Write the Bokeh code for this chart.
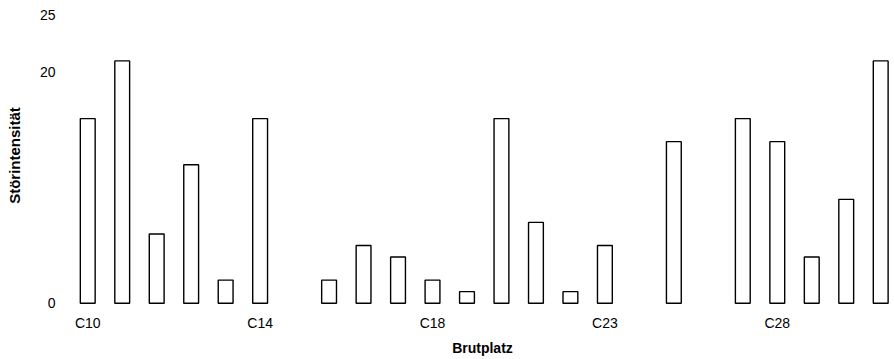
from bokeh.plotting import figure
from bokeh.models import FixedTicker, Range1d
from bokeh.embed import file_html
from bokeh.resources import INLINE

categories = ["C10", "C11", "C12", "C12b", "C13", "C14", "C15", "C15b",
              "C16", "C17", "C18", "C19", "C20", "C21", "C22", "C23",
              "C24", "C25", "C26", "C27", "C28", "C29", "C30", "C31"]
values = [16, 21, 6, 12, 2, 16, 0, 2, 5, 4, 2, 1, 16, 7, 1, 5,
          0, 14, 0, 16, 14, 4, 9, 21]
tick_labels = ["C10", "C14", "C18", "C23", "C28"]
y_ticks = [0, 20, 25]

xs = [i for i, v in enumerate(values) if v > 0]
tops = [v for v in values if v > 0]

FONT = "Liberation Sans"

p = figure(frame_width=824, frame_height=300, output_backend="svg",
           toolbar_location=None,
           x_range=Range1d(-0.5, 23.4), y_range=Range1d(-0.2, 25.8),
           min_border_left=70, min_border_right=0, min_border_top=5,
           min_border_bottom=54)
p.vbar(x=xs, top=tops, bottom=0, width=0.43, fill_color="white",
       line_color="black", line_width=1.4)

p.outline_line_color = None
p.xgrid.grid_line_color = None
p.ygrid.grid_line_color = None

tick_pos = [categories.index(t) for t in tick_labels]
p.xaxis.ticker = FixedTicker(ticks=tick_pos)
p.xaxis.major_label_overrides = {i: t for i, t in zip(tick_pos, tick_labels)}
p.yaxis.ticker = FixedTicker(ticks=y_ticks)

for ax in (p.xaxis[0], p.yaxis[0]):
    ax.axis_line_color = None
    ax.major_tick_line_color = None
    ax.minor_tick_line_color = None
    ax.major_tick_out = 0
    ax.major_tick_in = 0
    ax.minor_tick_out = 0
    ax.minor_tick_in = 0
    ax.major_label_text_font = FONT
    ax.major_label_text_font_size = "14px"
    ax.major_label_text_color = "black"
    ax.axis_label_text_font = FONT
    ax.axis_label_text_font_style = "bold"
    ax.axis_label_text_color = "black"

p.xaxis.axis_label_text_font_size = "14px"
p.yaxis.axis_label_text_font_size = "15px"
p.xaxis.major_label_standoff = 9
p.yaxis.major_label_standoff = 15
p.xaxis.axis_label = "Brutplatz"
p.yaxis.axis_label = "Störintensität"
p.xaxis.axis_label_standoff = 6
p.yaxis.axis_label_standoff = 14

open("out.html", "w").write(file_html(p, INLINE))
